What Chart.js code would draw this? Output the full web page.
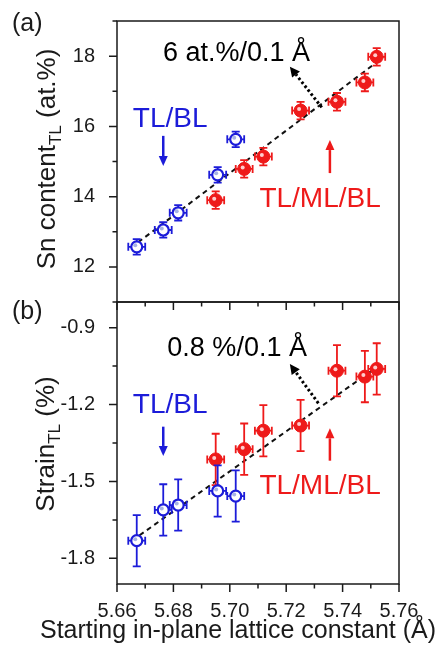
<!DOCTYPE html>
<html>
<head>
<meta charset="utf-8">
<script src="https://cdn.jsdelivr.net/npm/chart.js@4"></script>
<style>
  body { margin: 0; background: #fff; }
  #wrap { position: relative; width: 445px; height: 655px; }
  canvas { position: absolute; left: 0; }
  #chart-a { top: 0; }
  #chart-b { top: 290px; }
</style>
</head>
<body>
<div id="wrap">
  <canvas id="chart-a" width="445" height="312"></canvas>
  <canvas id="chart-b" width="445" height="365"></canvas>
</div>
<script>
// lattice constant (Å) of each sample
const xTicks = [5.66, 5.68, 5.70, 5.72, 5.74, 5.76];
const snTicks = [12, 14, 16, 18];
const strainTicks = [-1.8, -1.5, -1.2, -0.9];

const blueX = [5.6670, 5.6764, 5.6817, 5.6957, 5.7021];
const redX = [5.6950, 5.7051, 5.7119, 5.7251, 5.7380, 5.7479, 5.7521];

// (a) Sn content of TL (at.%)
const blueSn = [12.57, 13.05, 13.54, 14.62, 15.63];
const redSn = [13.90, 14.79, 15.14, 16.45, 16.70, 17.25, 17.98];
const blueSnErr = [0.22, 0.22, 0.22, 0.22, 0.22];
const redSnErr = [0.25, 0.25, 0.25, 0.25, 0.25, 0.25, 0.25];

// (b) strain of TL (%)
const blueStrain = [-1.731, -1.611, -1.592, -1.537, -1.557];
const redStrain = [-1.414, -1.374, -1.302, -1.282, -1.068, -1.091, -1.061];
const blueStrainErr = [0.10, 0.10, 0.10, 0.10, 0.10];
const redStrainErr = [0.10, 0.10, 0.10, 0.10, 0.10, 0.10, 0.10];

const xErr = 0.003;

// linear fits
const fitSnX = [5.6675, 5.7525];
const fitSnY = [12.70, 17.85];
const fitStrainX = [5.6680, 5.7520];
const fitStrainY = [-1.71, -1.055];

const FONT = '"Liberation Sans", Arial, sans-serif';
const INK = '#1a1a1a';
const BLUE = '#1c1cd9';
const RED = '#ee1a1a';

function points(xs, ys) {
  return xs.map((x, i) => ({ x, y: ys[i] }));
}

function arrow(ctx, x0, y0, x1, y1, color, width, dash, hl, hw) {
  const a = Math.atan2(y1 - y0, x1 - x0);
  const bx = x1 - hl * Math.cos(a);
  const by = y1 - hl * Math.sin(a);
  ctx.save();
  ctx.strokeStyle = color;
  ctx.fillStyle = color;
  ctx.lineWidth = width;
  ctx.setLineDash(dash);
  ctx.beginPath();
  ctx.moveTo(x0, y0);
  ctx.lineTo(bx, by);
  ctx.stroke();
  ctx.setLineDash([]);
  ctx.beginPath();
  ctx.moveTo(x1, y1);
  ctx.lineTo(bx + hw * Math.sin(a), by - hw * Math.cos(a));
  ctx.lineTo(bx - hw * Math.sin(a), by + hw * Math.cos(a));
  ctx.closePath();
  ctx.fill();
  ctx.restore();
}

function minorOf(ticks) {
  const step = ticks[1] - ticks[0];
  const out = ticks.map((v) => v - step / 2);
  out.push(ticks[ticks.length - 1] + step / 2);
  return out;
}

function makePlugin(cfg) {
  return {
    id: 'panel-' + cfg.label,
    beforeDatasetDraw(chart, args) {
      const ds = chart.data.datasets[args.index];
      if (!ds.errY) return;
      const { ctx } = chart;
      const sx = chart.scales.x, sy = chart.scales.y;
      ctx.save();
      ctx.strokeStyle = ds.borderColor;
      ctx.lineWidth = 1.8;
      ds.data.forEach((p, i) => {
        const px = sx.getPixelForValue(p.x), py = sy.getPixelForValue(p.y);
        const x0 = sx.getPixelForValue(p.x - xErr), x1 = sx.getPixelForValue(p.x + xErr);
        const y0 = sy.getPixelForValue(p.y - ds.errY[i]), y1 = sy.getPixelForValue(p.y + ds.errY[i]);
        ctx.beginPath();
        ctx.moveTo(x0, py); ctx.lineTo(x1, py);
        ctx.moveTo(px, y0); ctx.lineTo(px, y1);
        ctx.moveTo(x0, py - 4); ctx.lineTo(x0, py + 4);
        ctx.moveTo(x1, py - 4); ctx.lineTo(x1, py + 4);
        ctx.moveTo(px - 4, y0); ctx.lineTo(px + 4, y0);
        ctx.moveTo(px - 4, y1); ctx.lineTo(px + 4, y1);
        ctx.stroke();
      });
      ctx.restore();
    },
    afterDatasetDraw(chart, args) {
      const ds = chart.data.datasets[args.index];
      if (!ds.errY) return;
      const { ctx } = chart;
      ctx.save();
      ctx.fillStyle = ds.shine;
      chart.getDatasetMeta(args.index).data.forEach((el) => {
        ctx.beginPath();
        ctx.arc(el.x - 1.5, el.y - 1.5, 2, 0, Math.PI * 2);
        ctx.fill();
      });
      ctx.restore();
    },
    afterDraw(chart) {
      const { ctx, chartArea: ca } = chart;
      const sx = chart.scales.x, sy = chart.scales.y;
      ctx.save();

      // frame
      ctx.strokeStyle = INK;
      ctx.lineWidth = 1.5;
      ctx.strokeRect(ca.left, ca.top, ca.right - ca.left, ca.bottom - ca.top);

      // outward ticks
      ctx.beginPath();
      xTicks.forEach((v) => { const p = sx.getPixelForValue(v); ctx.moveTo(p, ca.bottom); ctx.lineTo(p, ca.bottom + 8); });
      minorOf(xTicks).filter((v) => v > sx.min && v < sx.max).forEach((v) => {
        const p = sx.getPixelForValue(v); ctx.moveTo(p, ca.bottom); ctx.lineTo(p, ca.bottom + 4.5);
      });
      cfg.yTicks.forEach((v) => { const p = sy.getPixelForValue(v); ctx.moveTo(ca.left, p); ctx.lineTo(ca.left - 8, p); });
      minorOf(cfg.yTicks).filter((v) => v >= sy.min - 1e-9 && v <= sy.max + 1e-9).forEach((v) => {
        const p = sy.getPixelForValue(v); ctx.moveTo(ca.left, p); ctx.lineTo(ca.left - 4.5, p);
      });
      ctx.stroke();

      // y title with subscript
      ctx.fillStyle = INK;
      ctx.textBaseline = 'alphabetic';
      const big = '26px ' + FONT, small = '17px ' + FONT;
      ctx.font = big;
      const w1 = ctx.measureText(cfg.yTitle[0]).width;
      const w3 = ctx.measureText(cfg.yTitle[2]).width;
      ctx.font = small;
      const w2 = ctx.measureText(cfg.yTitle[1]).width;
      ctx.save();
      ctx.translate(cfg.yTitleX, cfg.yTitleY);
      ctx.rotate(-Math.PI / 2);
      let tx = -(w1 + w2 + w3) / 2;
      ctx.textAlign = 'left';
      ctx.font = big;
      ctx.fillText(cfg.yTitle[0], tx, 0);
      ctx.font = small;
      ctx.fillText(cfg.yTitle[1], tx + w1, 6);
      ctx.font = big;
      ctx.fillText(cfg.yTitle[2], tx + w1 + w2, 0);
      ctx.restore();

      // panel label
      ctx.font = '25px ' + FONT;
      ctx.textAlign = 'left';
      ctx.fillText('(' + cfg.label + ')', 12, cfg.labelY);

      // x title
      if (cfg.xTitle) {
        ctx.font = '25px ' + FONT;
        ctx.textAlign = 'center';
        ctx.fillText(cfg.xTitle, 238, cfg.xTitleY);
      }

      // slope text
      ctx.font = '27px ' + FONT;
      ctx.textAlign = 'center';
      ctx.fillStyle = '#000';
      ctx.fillText(cfg.slope.text, sx.getPixelForValue(cfg.slope.x), sy.getPixelForValue(cfg.slope.y));

      // group labels
      ctx.font = '28px ' + FONT;
      ctx.textAlign = 'left';
      ctx.fillStyle = BLUE;
      ctx.fillText('TL/BL', sx.getPixelForValue(cfg.blueLabel.x), sy.getPixelForValue(cfg.blueLabel.y));
      ctx.fillStyle = RED;
      ctx.fillText('TL/ML/BL', sx.getPixelForValue(cfg.redLabel.x), sy.getPixelForValue(cfg.redLabel.y));
      ctx.restore();

      // arrows
      const pa = (a) => [sx.getPixelForValue(a[0]), sy.getPixelForValue(a[1]), sx.getPixelForValue(a[2]), sy.getPixelForValue(a[3])];
      arrow(ctx, ...pa(cfg.slopeArrow), '#000', 3, [2.5, 2.5], 10, 5);
      arrow(ctx, ...pa(cfg.blueArrow), BLUE, 2.5, [], 10, 4.5);
      arrow(ctx, ...pa(cfg.redArrow), RED, 2.5, [], 10, 4.5);
    }
  };
}

function makePanel(canvas, cfg) {
  return new Chart(canvas, {
    type: 'scatter',
    data: {
      datasets: [
        {
          label: 'fit',
          type: 'line',
          data: points(cfg.fitX, cfg.fitY),
          borderColor: '#111',
          borderWidth: 2,
          borderDash: [5, 4],
          pointRadius: 0,
          fill: false,
          order: 3,
        },
        {
          label: 'TL/ML/BL',
          data: points(redX, cfg.red),
          errY: cfg.redErr,
          borderColor: RED,
          backgroundColor: RED,
          shine: 'rgba(255,215,215,0.95)',
          pointRadius: 6.5,
          borderWidth: 1,
          order: 1,
        },
        {
          label: 'TL/BL',
          data: points(blueX, cfg.blue),
          errY: cfg.blueErr,
          borderColor: BLUE,
          backgroundColor: '#fff',
          shine: 'rgba(150,165,225,0.85)',
          pointRadius: 5.5,
          borderWidth: 2.2,
          order: 0,
        },
      ],
    },
    options: {
      responsive: false,
      animation: false,
      layout: { padding: { left: 0, right: 46, top: cfg.top, bottom: 0 } },
      plugins: { legend: { display: false }, tooltip: { enabled: false } },
      scales: {
        x: {
          type: 'linear',
          min: 5.66,
          max: 5.76,
          afterBuildTicks: (s) => { s.ticks = xTicks.map((v) => ({ value: v })); },
          grid: { display: false },
          border: { display: false },
          ticks: {
            display: cfg.showX,
            maxRotation: 0,
            padding: 7,
            color: INK,
            font: { family: FONT, size: 20 },
            callback: (v) => v.toFixed(2),
          },
          afterFit: (s) => { s.height = cfg.xHeight; s.paddingLeft = 0; s.paddingRight = 0; },
        },
        y: {
          min: cfg.yMin,
          max: cfg.yMax,
          afterBuildTicks: (s) => { s.ticks = cfg.yTicks.map((v) => ({ value: v })); },
          grid: { display: false },
          border: { display: false },
          ticks: {
            padding: 14,
            color: INK,
            font: { family: FONT, size: 20 },
            callback: cfg.fmt,
          },
          afterFit: (s) => { s.width = 117; s.paddingTop = 0; s.paddingBottom = 0; },
        },
      },
    },
    plugins: [makePlugin(cfg)],
  });
}

makePanel(document.getElementById('chart-a'), {
  label: 'a',
  labelY: 31,
  top: 21,
  xHeight: 10,
  showX: false,
  yMin: 11,
  yMax: 19,
  yTicks: snTicks,
  fmt: (v) => String(v),
  blue: blueSn,
  red: redSn,
  blueErr: blueSnErr,
  redErr: redSnErr,
  fitX: fitSnX,
  fitY: fitSnY,
  yTitle: ['Sn content', 'TL', ' (at.%)'],
  yTitleX: 55,
  yTitleY: 159,
  slope: { text: '6 at.%/0.1 Å', x: 5.7024, y: 17.86 },
  slopeArrow: [5.7326, 16.54, 5.7213, 17.70],
  blueLabel: { x: 5.6656, y: 15.99 },
  redLabel: { x: 5.7105, y: 13.71 },
  blueArrow: [5.6764, 15.73, 5.6764, 14.87],
  redArrow: [5.7355, 14.67, 5.7355, 15.61],
});

makePanel(document.getElementById('chart-b'), {
  label: 'b',
  labelY: 29,
  top: 12,
  xHeight: 71,
  showX: true,
  yMin: -1.9,
  yMax: -0.8,
  yTicks: strainTicks,
  fmt: (v) => v.toFixed(1),
  blue: blueStrain,
  red: redStrain,
  blueErr: blueStrainErr,
  redErr: redStrainErr,
  fitX: fitStrainX,
  fitY: fitStrainY,
  yTitle: ['Strain', 'TL', ' (%)'],
  yTitleX: 54,
  yTitleY: 154,
  xTitle: 'Starting in-plane lattice constant (Å)',
  xTitleY: 348,
  slope: { text: '0.8 %/0.1 Å', x: 5.7026, y: -1.0094 },
  slopeArrow: [5.7314, -1.195, 5.7213, -1.042],
  blueLabel: { x: 5.6656, y: -1.234 },
  redLabel: { x: 5.7105, y: -1.549 },
  blueArrow: [5.6764, -1.2863, 5.6764, -1.4006],
  redArrow: [5.7355, -1.419, 5.7355, -1.2926],
});
</script>
</body>
</html>
